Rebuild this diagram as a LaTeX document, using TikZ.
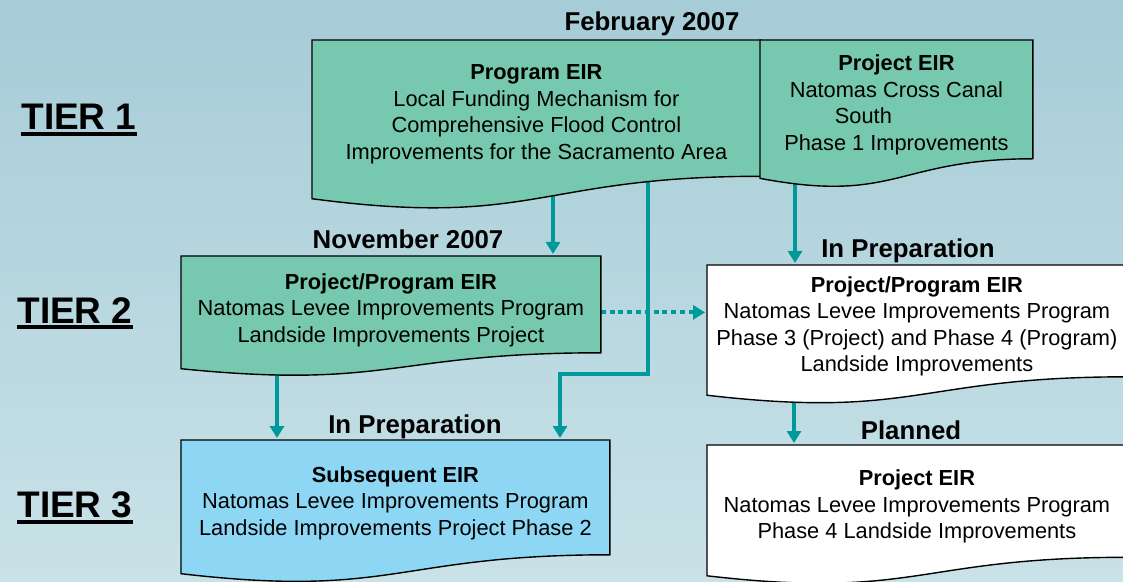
\documentclass[tikz,border=0pt]{standalone}
\usepackage{fontspec}
\setmainfont{Liberation Sans}
\usetikzlibrary{arrows.meta}
\usetikzlibrary{calc}
\usetikzlibrary{backgrounds}

\definecolor{bgtop}{RGB}{166,204,215}
\definecolor{bgbottom}{RGB}{201,226,232}
\definecolor{eirgreen}{RGB}{118,201,174}
\definecolor{eirblue}{RGB}{141,215,245}
\definecolor{flowteal}{RGB}{0,153,153}

\tikzset{
    eirtext/.style={align=center, inner sep=0pt, anchor=north west,
        font=\fontsize{10.9}{13.25}\selectfont},
    docsize/.style 2 args={minimum width=#1*0.5pt, minimum height=#2*0.5pt},
    datelabel/.style={anchor=base, inner sep=0pt, font=\bfseries\fontsize{12.9}{15}\selectfont},
    tierlabel/.style={anchor=base west, inner sep=0pt, font=\bfseries\fontsize{18.5}{22}\selectfont},
    flow/.style={draw=flowteal, line width=2pt, shorten >=1pt,
        -{Triangle[width=7pt,length=6pt]}},
    flowdotted/.style={flow, line width=2pt, dash pattern=on 2.5pt off 1.9pt},
}

% bold first line, with room above so the text sits a little lower
\newcommand{\eirhead}[1]{\rule{0pt}{13.5pt}\textbf{#1}}

% flowchart "document" outline round a node (wavy bottom)
\newcommand{\docshape}[2]{%
    \filldraw[fill=#2, draw=black, line width=0.7pt]
        let \p1 = (#1.north west), \p2 = (#1.south east), \n1 = {\y1-\y2} in
        (\p1) -- (\x2,\y1) -- (\p2)
        .. controls ({0.5*\x1+0.5*\x2},\y2) and ({0.5*\x1+0.5*\x2},{\y2-0.3815*\n1}) ..
        (\x1,{\y2-0.1646*\n1}) -- cycle;
}

\begin{document}
\begin{tikzpicture}[x=0.5pt, y=-0.5pt]
        \useasboundingbox (0,0) rectangle (1123,582);

        \node[tierlabel] (tier1) at (21,130) {TIER 1};
        \node[tierlabel] (tier2) at (17,323) {TIER 2};
        \node[tierlabel] (tier3) at (17,517) {TIER 3};
        \foreach \t in {tier1,tier2,tier3}
            \draw[line width=2pt] ([yshift=-2.25pt]\t.base west) -- ([yshift=-2.25pt]\t.base east);

        \node[datelabel] (feb) at (652,31) {February 2007};
        \node[datelabel] (nov) at (408,249) {November 2007};
        \node[datelabel] (prep1) at (908,258) {In Preparation};
        \node[datelabel] (prep2) at (415,433) {In Preparation};
        \node[datelabel] (plan) at (911,439) {Planned};

        \node[eirtext, docsize={448}{135.5}] (prog) at (312,40)
            {\eirhead{Program EIR}\\Local Funding Mechanism for\\Comprehensive Flood Control\\Improvements for the Sacramento Area};
        \node[eirtext, docsize={272}{118}] (ncc) at (760,40)
            {\eirhead{Project EIR}\\Natomas Cross Canal\\\mbox{South\hspace{33pt}}\\Phase 1 Improvements};
        \node[eirtext, docsize={419}{96}] (nlip) at (181,256)
            {\eirhead{Project/Program EIR}\\Natomas Levee Improvements Program\\Landside Improvements Project};
        \node[eirtext, docsize={419}{109}] (phase34) at (707,265)
            {\eirhead{Project/Program EIR}\\Natomas Levee Improvements Program\\Phase 3 (Project) and Phase 4 (Program)\\Landside Improvements};
        \node[eirtext, docsize={428}{114}] (phase2) at (181,440)
            {\eirhead{Subsequent EIR}\\Natomas Levee Improvements Program\\Landside Improvements Project Phase 2};
        \node[eirtext, docsize={419}{111.5}] (phase4) at (707,445)
            {\eirhead{Project EIR}\\Natomas Levee Improvements Program\\Phase 4 Landside Improvements};

        \coordinate (drop1) at (553,0);
        \coordinate (drop2) at (648,0);
        \coordinate (bend) at (560,374);
        \coordinate (drop3) at (795,0);
        \coordinate (drop4) at (277,0);
        \coordinate (drop5) at (794,0);

        \begin{pgfonlayer}{background}
            \shade[top color=bgtop, bottom color=bgbottom] (0,0) rectangle (1123,582);

            \draw[flow] (prog.center -| drop1) -- (nlip.north -| drop1);
            \draw[flow] (prog.center -| drop2) |- (bend) -- (phase2.north -| bend);
            \draw[flow] (ncc.center -| drop3) -- (phase34.north -| drop3);
            \draw[flow] (nlip.center -| drop4) -- (phase2.north -| drop4);
            \draw[flow] (phase34.center -| drop5) -- (phase4.north -| drop5);
            \draw[flowdotted] ([yshift=-4pt]nlip.east) -- ([yshift=-4pt]nlip.east -| phase34.west);

            \docshape{prog}{eirgreen}
            \docshape{ncc}{eirgreen}
            \docshape{nlip}{eirgreen}
            \docshape{phase34}{white}
            \docshape{phase2}{eirblue}
            \docshape{phase4}{white}
        \end{pgfonlayer}
    \end{tikzpicture}
\end{document}
